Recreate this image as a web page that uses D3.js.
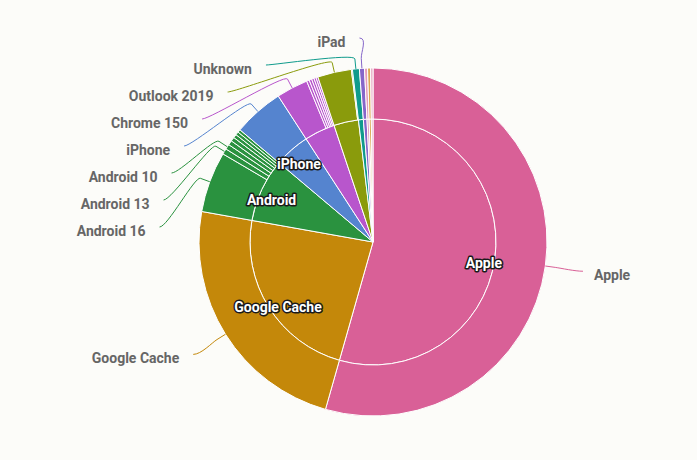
<!DOCTYPE html>
<html>
<head>
<meta charset="utf-8">
<script src="https://cdn.jsdelivr.net/npm/d3@7"></script>
<style>
  body { margin: 0; background: #fcfcf9; }
  text { font-family: Roboto, "Noto Sans", sans-serif; font-weight: 700; }
</style>
</head>
<body>
<svg id="chart" width="697" height="460"></svg>
<script>
// inner ring: client families
const groups = ["Apple", "Google Cache", "Android", "iPhone", "Chrome", "Outlook", "Unknown", "iPad", "Samsung Mail", "Yahoo", "Thunderbird"];
const groupColors = ["#d96097", "#c4880a", "#2a923f", "#5584cf", "#b856cc", "#8a9b0c", "#0f9b8c", "#8566c9", "#e49bbb", "#dba84f", "#e7a9c4"];

// outer ring: versions (share in %)
const versions = [
  "Apple", "Google Cache",
  "Android 16", "Android 13", "Android 10", "Android 14", "Android 15", "Android 12", "Android 11", "Android 9",
  "iPhone",
  "Chrome 150", "Chrome 149", "Chrome 148", "Chrome 147", "Chrome 146", "Chrome 145",
  "Outlook 2019", "Outlook 2016",
  "Unknown", "iPad", "Samsung Mail", "Yahoo", "Thunderbird"
];
const versionGroups = [
  "Apple", "Google Cache",
  "Android", "Android", "Android", "Android", "Android", "Android", "Android", "Android",
  "iPhone",
  "Chrome", "Chrome", "Chrome", "Chrome", "Chrome", "Chrome",
  "Outlook", "Outlook",
  "Unknown", "iPad", "Samsung Mail", "Yahoo", "Thunderbird"
];
const versionValues = [
  54.4, 23.4,
  5.64, 0.53, 0.47, 0.42, 0.38, 0.33, 0.30, 0.27,
  4.69,
  2.94, 0.25, 0.24, 0.22, 0.20, 0.18,
  3.14, 0.10,
  0.64, 0.47, 0.28, 0.28, 0.22
];

const width = 697, height = 460;
const cx = 373, cy = 242;
const rInner = 123, rOuter = 174, labelR = 212, ellipseA = 214;
const minLabelY = 38, labelGap = 27;
const innerLabelMin = 4.5, outerLabelMin = 0.45;

const svg = d3.select("#chart");
const g = svg.append("g").attr("transform", `translate(${cx},${cy})`);

const color = d3.scaleOrdinal().domain(groups).range(groupColors);

const innerData = groups.map(name => ({
  name,
  value: d3.sum(versionValues.filter((v, j) => versionGroups[j] === name))
}));
const outerData = versions.map((name, i) => ({ name, group: versionGroups[i], value: versionValues[i] }));

const pie = d3.pie().sort(null).value(d => d.value);
const innerArcs = pie(innerData);
const outerArcs = pie(outerData);

const arcIn = d3.arc().innerRadius(0).outerRadius(rInner);
const arcOut = d3.arc().innerRadius(rInner).outerRadius(rOuter);

g.selectAll("path.inner")
  .data(innerArcs)
  .join("path")
  .attr("class", "inner")
  .attr("d", arcIn)
  .attr("fill", d => color(d.data.name))
  .attr("stroke", "#fff")
  .attr("stroke-width", 1);

g.selectAll("path.outer")
  .data(outerArcs)
  .join("path")
  .attr("class", "outer")
  .attr("d", arcOut)
  .attr("fill", d => color(d.data.group))
  .attr("stroke", "#fff")
  .attr("stroke-width", 1);

const mid = d => (d.startAngle + d.endAngle) / 2;
const polar = (a, r) => [r * Math.sin(a), -r * Math.cos(a)];

// inner labels
g.selectAll("text.inner")
  .data(innerArcs.filter(d => d.data.value >= innerLabelMin))
  .join("text")
  .attr("class", "inner")
  .attr("x", d => polar(mid(d), 112)[0])
  .attr("y", d => polar(mid(d), 112)[1] + 6)
  .attr("dy", "0.35em")
  .attr("text-anchor", "middle")
  .attr("font-size", 14)
  .attr("fill", "#fff")
  .attr("stroke", "#1a1a1a")
  .attr("stroke-width", 3)
  .attr("stroke-linejoin", "round")
  .attr("paint-order", "stroke")
  .text(d => d.data.name);

// outer labels layout
const labels = outerArcs.filter(d => d.data.value >= outerLabelMin).map(d => {
  const a = mid(d);
  const [x, y] = polar(a, labelR);
  return { d, a, x, y, left: Math.sin(a) < 0 };
});

// left upper half: push labels down from the top bound, then refit x on an ellipse
const leftTop = labels.filter(l => l.left && l.y < 0).sort((p, q) => p.y - q.y);
leftTop.forEach((l, i) => {
  const minY = i === 0 ? minLabelY - cy : leftTop[i - 1].y + labelGap;
  l.y = Math.max(l.y, minY);
});
if (leftTop.length) {
  const top = leftTop[0];
  const dy0 = Math.abs(top.y), dx0 = Math.abs(top.x);
  const rB = dy0 / Math.sqrt(1 - (dx0 / ellipseA) ** 2);
  leftTop.slice(1).forEach(l => {
    l.x = -ellipseA * Math.sqrt(Math.max(0, 1 - (l.y / rB) ** 2));
  });
}

const connector = l => {
  const e = polar(l.a, rOuter);
  const b = polar(l.a, rOuter + 10);
  const c1 = polar(l.a, rOuter + 16);
  const c2 = [l.x + (l.left ? 8 : -8), l.y];
  const p = d3.path();
  p.moveTo(e[0], e[1]);
  p.lineTo(b[0], b[1]);
  p.bezierCurveTo(c1[0], c1[1], c2[0], c2[1], l.x, l.y);
  return p.toString();
};

g.selectAll("path.line")
  .data(labels)
  .join("path")
  .attr("class", "line")
  .attr("d", connector)
  .attr("fill", "none")
  .attr("stroke", l => color(l.d.data.group))
  .attr("stroke-width", 1);

g.selectAll("text.outer")
  .data(labels)
  .join("text")
  .attr("class", "outer")
  .attr("x", l => l.left ? l.x - 14 : l.x + 11)
  .attr("y", l => l.y + 4)
  .attr("dy", "0.35em")
  .attr("text-anchor", l => l.left ? "end" : "start")
  .attr("font-size", 14)
  .attr("fill", "#666")
  .text(l => l.d.data.name);
</script>
</body>
</html>
